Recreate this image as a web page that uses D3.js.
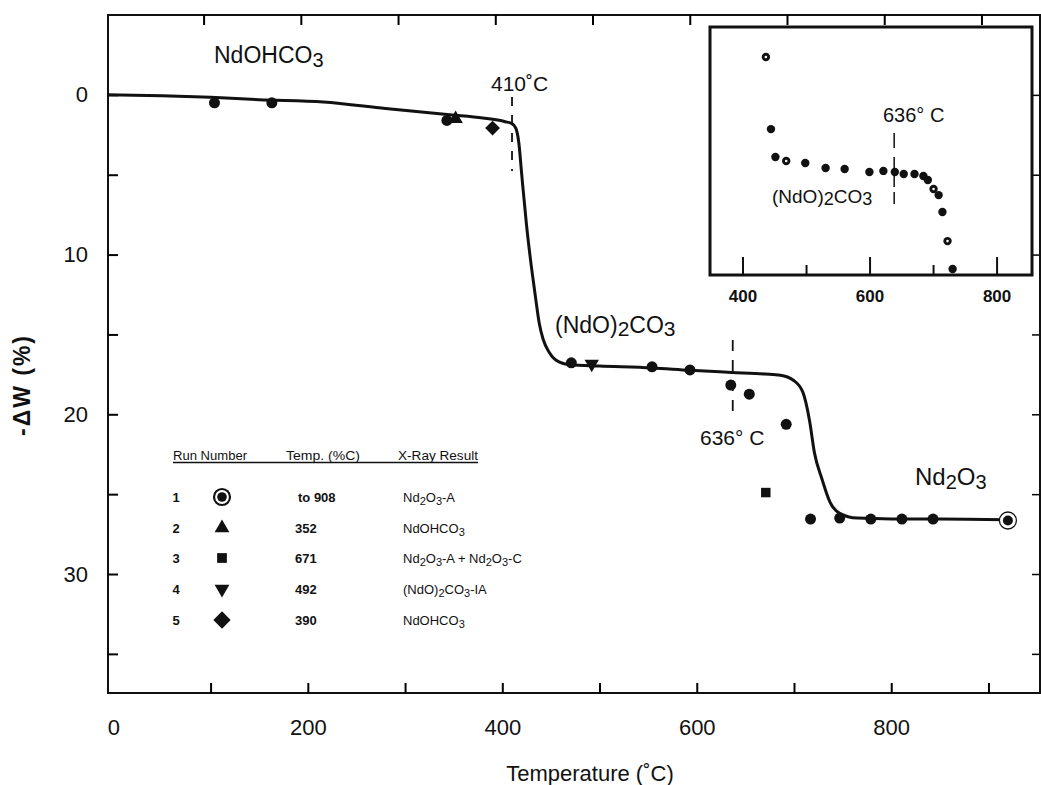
<!DOCTYPE html>
<html>
<head>
<meta charset="utf-8">
<script src="https://d3js.org/d3.v7.min.js"></script>
<style>
  body { margin: 0; background: #fff; }
  svg { font-family: "Liberation Sans", Arial, Helvetica, sans-serif; }
</style>
</head>
<body>
<div id="chart"></div>
<script>

// axis ticks
var xTicks = [0, 100, 200, 300, 400, 500, 600, 700, 800, 900];
var xLabels = [0, 200, 400, 600, 800];
var yTicks = [0, 5, 10, 15, 20, 25, 30, 35];
var yLabels = [0, 10, 20, 30];
var insetTicks = [400, 500, 600, 700, 800];
var insetLabels = [400, 600, 800];

// the fitted TGA curve (temperature, -dW %)
var curveT = [-5, 50, 100, 150, 216, 280, 346, 380, 403, 410, 414, 417, 420, 425, 430, 434, 438, 442, 448, 455, 470, 500, 554, 593, 636, 670, 686, 699, 709, 716, 721, 729, 737, 747, 765, 800, 850, 919];
var curveW = [0.0, 0.05, 0.15, 0.3, 0.44, 0.85, 1.25, 1.45, 1.68, 1.8, 2.1, 3.0, 5.0, 8.2, 10.8, 12.6, 14.3, 15.3, 16.1, 16.6, 16.9, 16.98, 17.1, 17.25, 17.38, 17.48, 17.55, 17.85, 18.6, 20.4, 22.4, 24.1, 25.5, 26.2, 26.5, 26.55, 26.55, 26.6];

// measured points, one array pair per run
var run1T = [104, 163, 343, 471, 554, 593, 635, 654, 692, 717, 747, 779, 811, 843];
var run1W = [0.5, 0.5, 1.6, 16.78, 17.03, 17.22, 18.17, 18.74, 20.63, 26.56, 26.5, 26.56, 26.56, 26.56];
var run1EndT = 920, run1EndW = 26.65;
var run2T = [352], run2W = [1.5];
var run3T = [671], run3W = [24.9];
var run4T = [492], run4W = [16.85];
var run5T = [390], run5W = [2.08];

// inset points (temperature, -dW %)
var insetT = [436, 444, 451, 468, 498, 530, 560, 599, 621, 639, 653, 670, 684, 691, 700, 708, 714, 722, 730];
var insetW = [12.27, 15.55, 16.82, 17.0, 17.09, 17.32, 17.36, 17.5, 17.45, 17.5, 17.59, 17.59, 17.68, 17.86, 18.27, 18.55, 19.32, 20.64, 21.91];
var insetOpen = [1, 0, 0, 1, 0, 0, 0, 0, 0, 0, 0, 0, 0, 0, 1, 0, 0, 1, 0];

// legend table
var runNumbers = ["1", "2", "3", "4", "5"];
var runSymbols = ["ring", "triangle", "square", "down", "diamond"];
var runTemps = ["to 908", "352", "671", "492", "390"];
var runResults = [
  [["Nd"], ["2", "sub"], ["O"], ["3", "sub"], ["-A"]],
  [["NdOHCO"], ["3", "sub"]],
  [["Nd"], ["2", "sub"], ["O"], ["3", "sub"], ["-A + Nd"], ["2", "sub"], ["O"], ["3", "sub"], ["-C"]],
  [["(NdO)"], ["2", "sub"], ["CO"], ["3", "sub"], ["-IA"]],
  [["NdOHCO"], ["3", "sub"]]
];

var width = 1041, height = 785;

var svg = d3.select("#chart").append("svg")
    .attr("width", width)
    .attr("height", height);

var x = d3.scaleLinear().domain([-5.5, 953]).range([108, 1040]);
var y = d3.scaleLinear().domain([-5, 37.45]).range([15, 693]);

var ix = d3.scaleLinear().domain([348, 855]).range([710, 1032]);
var iy = d3.scaleLinear().domain([10.91, 22.18]).range([27, 275]);

// text with subscripts
function richText(g, parts, size, subSize, subDy) {
  var low = false;
  parts.forEach(function(p) {
    var t = g.append("tspan").text(p[0]);
    if (p[1] == "sub") {
      t.attr("font-size", subSize).attr("dy", low ? 0 : subDy);
      low = true;
    } else {
      t.attr("dy", low ? -subDy : 0);
      low = false;
    }
  });
}

// square diamond (d3's diamond is too narrow)
var squareDiamond = {
  draw: function(context, size) {
    var r = Math.sqrt(size / 2);
    context.moveTo(0, -r);
    context.lineTo(r, 0);
    context.lineTo(0, r);
    context.lineTo(-r, 0);
    context.closePath();
  }
};

function symbolPath(kind, s) {
  var types = { triangle: d3.symbolTriangle, square: d3.symbolSquare, diamond: squareDiamond, down: d3.symbolTriangle };
  return d3.symbol().type(types[kind]).size(s)();
}

//////////////////////////////////////////////////
// main frame and axes
svg.append("rect")
    .attr("x", 108).attr("y", 15)
    .attr("width", 932).attr("height", 678)
    .attr("fill", "none")
    .attr("stroke", "#111")
    .attr("stroke-width", 2);

var gx = svg.append("g")
    .attr("transform", "translate(0,693)")
    .call(d3.axisBottom(x).tickValues(xTicks).tickSize(-10).tickPadding(26)
        .tickFormat(function(d) { return xLabels.indexOf(d) >= 0 ? d : ""; }));
gx.select(".domain").remove();
gx.selectAll(".tick line").attr("stroke-width", 2).filter(function(d) { return d == 0; }).remove();
gx.selectAll("text").attr("font-size", 22).attr("fill", "#111");

var gt = svg.append("g")
    .attr("transform", "translate(-7,15)")
    .call(d3.axisTop(x).tickValues(xTicks.slice(1)).tickSize(-10).tickFormat(""));
gt.select(".domain").remove();
gt.selectAll(".tick line").attr("stroke-width", 2);

var gy = svg.append("g")
    .attr("transform", "translate(108,0)")
    .call(d3.axisLeft(y).tickValues(yTicks).tickSize(-10).tickPadding(20)
        .tickFormat(function(d) { return yLabels.indexOf(d) >= 0 ? d : ""; }));
gy.select(".domain").remove();
gy.selectAll(".tick line").attr("stroke-width", 2);
gy.selectAll("text").attr("font-size", 22).attr("fill", "#111");

var gr = svg.append("g")
    .attr("transform", "translate(1039,0)")
    .call(d3.axisRight(y).tickValues(yTicks).tickSize(-7).tickFormat(""));
gr.select(".domain").remove();
gr.selectAll(".tick line").attr("stroke-width", 1.5);

// axis titles
svg.append("text")
    .attr("x", 590).attr("y", 781)
    .attr("text-anchor", "middle")
    .attr("font-size", 22)
    .attr("fill", "#111")
    .text("Temperature (\u02daC)");

svg.append("text")
    .attr("transform", "translate(30,385) rotate(-90)")
    .attr("text-anchor", "middle")
    .attr("font-size", 23)
    .attr("font-weight", "bold")
    .attr("letter-spacing", 2)
    .attr("fill", "#111")
    .text("-\u0394W (%)");

//////////////////////////////////////////////////
// the curve
var line = d3.line()
    .x(function(d, i) { return x(curveT[i]); })
    .y(function(d, i) { return y(curveW[i]); })
    .curve(d3.curveMonotoneX);

svg.append("path")
    .datum(curveT)
    .attr("d", line)
    .attr("fill", "none")
    .attr("stroke", "#111")
    .attr("stroke-width", 3);

// dashed markers for the two transitions
svg.append("line")
    .attr("x1", x(410)).attr("x2", x(410))
    .attr("y1", 97).attr("y2", 171)
    .attr("stroke", "#111").attr("stroke-width", 1.8)
    .attr("stroke-dasharray", "9,9");
svg.append("line")
    .attr("x1", x(637)).attr("x2", x(637))
    .attr("y1", 340).attr("y2", 414)
    .attr("stroke", "#111").attr("stroke-width", 1.8)
    .attr("stroke-dasharray", "11,9");

// points
svg.selectAll(".run1")
    .data(run1T)
    .enter()
    .append("circle")
    .attr("cx", function(d) { return x(d); })
    .attr("cy", function(d, i) { return y(run1W[i]); })
    .attr("r", 5.5)
    .attr("fill", "#111");

svg.append("circle")
    .attr("cx", x(run1EndT)).attr("cy", y(run1EndW))
    .attr("r", 8.5)
    .attr("fill", "#fff").attr("stroke", "#111").attr("stroke-width", 1.3);
svg.append("circle")
    .attr("cx", x(run1EndT)).attr("cy", y(run1EndW))
    .attr("r", 5)
    .attr("fill", "#111");

function addMarkers(T, W, kind, s) {
  T.forEach(function(t, i) {
    svg.append("path")
        .attr("d", symbolPath(kind, s))
        .attr("transform", "translate(" + x(t) + "," + y(W[i]) + ")" + (kind == "down" ? " rotate(180)" : ""))
        .attr("fill", "#111");
  });
}
addMarkers(run2T, run2W, "triangle", 90);
addMarkers(run3T, run3W, "square", 90);
addMarkers(run4T, run4W, "down", 90);
addMarkers(run5T, run5W, "diamond", 110);

// labels on the chart
var big = 23;
var l1 = svg.append("text").attr("x", 214).attr("y", 63).attr("font-size", big).attr("fill", "#111");
richText(l1, [["NdOHCO"], ["3", "sub"]], big, 20, 4);

var l2 = svg.append("text").attr("x", 555).attr("y", 333).attr("font-size", big).attr("fill", "#111");
richText(l2, [["(NdO)"], ["2", "sub"], ["CO"], ["3", "sub"]], big, 21, 3);

var l3 = svg.append("text").attr("x", 915).attr("y", 485).attr("font-size", big + 1).attr("fill", "#111");
richText(l3, [["Nd"], ["2", "sub"], ["O"], ["3", "sub"]], big, 20, 4);

svg.append("text")
    .attr("x", 491).attr("y", 91)
    .attr("font-size", 21).attr("fill", "#111")
    .text("410\u02daC");

svg.append("text")
    .attr("x", 700).attr("y", 445)
    .attr("font-size", 21).attr("fill", "#111")
    .text("636\u00b0 C");

//////////////////////////////////////////////////
// legend table
var lg = svg.append("g").attr("fill", "#111");
var headY = 460;
lg.append("text").attr("x", 173).attr("y", headY).attr("font-size", 12)
    .attr("textLength", 74).attr("lengthAdjust", "spacingAndGlyphs").text("Run Number");
lg.append("text").attr("x", 286).attr("y", headY).attr("font-size", 12)
    .attr("textLength", 74).attr("lengthAdjust", "spacingAndGlyphs").text("Temp. (%C)");
lg.append("text").attr("x", 398).attr("y", headY).attr("font-size", 12)
    .attr("textLength", 80).attr("lengthAdjust", "spacingAndGlyphs").text("X-Ray Result");
lg.append("line").attr("x1", 173).attr("x2", 478).attr("y1", headY + 2.5).attr("y2", headY + 2.5)
    .attr("stroke", "#111").attr("stroke-width", 1.3);

var rowY = [497, 528, 558, 589, 620];
runNumbers.forEach(function(n, i) {
  var cy = rowY[i];
  lg.append("text").attr("x", 176).attr("y", cy + 5).attr("text-anchor", "middle")
      .attr("font-size", 13).attr("font-weight", "bold").text(n);

  if (runSymbols[i] == "ring") {
    lg.append("circle").attr("cx", 222).attr("cy", cy).attr("r", 8)
        .attr("fill", "#fff").attr("stroke", "#111").attr("stroke-width", 2.2);
    lg.append("circle").attr("cx", 222).attr("cy", cy).attr("r", 4.8);
  } else {
    var s = runSymbols[i] == "diamond" ? 150 : 95;
    lg.append("path")
        .attr("d", symbolPath(runSymbols[i], s))
        .attr("transform", "translate(222," + cy + ")" + (runSymbols[i] == "down" ? " rotate(180)" : ""));
  }

  lg.append("text").attr("x", i == 0 ? 298 : 295).attr("y", cy + 5)
      .attr("font-size", 13).attr("font-weight", "bold").text(runTemps[i]);

  var rt = lg.append("text").attr("x", 403).attr("y", cy + 5).attr("font-size", 13);
  richText(rt, runResults[i], 13, 11, 3);
});

//////////////////////////////////////////////////
// inset
var inset = svg.append("g");
inset.append("rect")
    .attr("x", 710).attr("y", 27)
    .attr("width", 322).attr("height", 248)
    .attr("fill", "#fff")
    .attr("stroke", "#111")
    .attr("stroke-width", 3);

insetTicks.forEach(function(t) {
  inset.append("line")
      .attr("x1", ix(t)).attr("x2", ix(t))
      .attr("y1", 275).attr("y2", insetLabels.indexOf(t) >= 0 ? 257 : 265)
      .attr("stroke", "#111").attr("stroke-width", 2);
});
insetLabels.forEach(function(t) {
  inset.append("text")
      .attr("x", ix(t)).attr("y", 302)
      .attr("text-anchor", "middle")
      .attr("font-size", 17).attr("font-weight", "bold")
      .attr("fill", "#111")
      .text(t);
});

inset.append("line")
    .attr("x1", ix(638)).attr("x2", ix(638))
    .attr("y1", 133).attr("y2", 204)
    .attr("stroke", "#111").attr("stroke-width", 1.5)
    .attr("stroke-dasharray", "15,9,30,5,12");

inset.selectAll(".ipt")
    .data(insetT)
    .enter()
    .append("circle")
    .attr("cx", function(d) { return ix(d); })
    .attr("cy", function(d, i) { return iy(insetW[i]); })
    .attr("r", 4.2)
    .attr("fill", "#111");
inset.selectAll(".ihole")
    .data(insetT.filter(function(d, i) { return insetOpen[i]; }))
    .enter()
    .append("circle")
    .attr("cx", function(d) { return ix(d); })
    .attr("cy", function(d) { return iy(insetW[insetT.indexOf(d)]); })
    .attr("r", 1.3)
    .attr("fill", "#fff");

inset.append("text")
    .attr("x", 883).attr("y", 122)
    .attr("font-size", 20).attr("fill", "#111")
    .text("636\u00b0 C");

var il = inset.append("text").attr("x", 772).attr("y", 203).attr("font-size", 19).attr("fill", "#111");
richText(il, [["(NdO)"], ["2", "sub"], ["CO"], ["3", "sub"]], 19, 18, 2);

</script>
</body>
</html>
